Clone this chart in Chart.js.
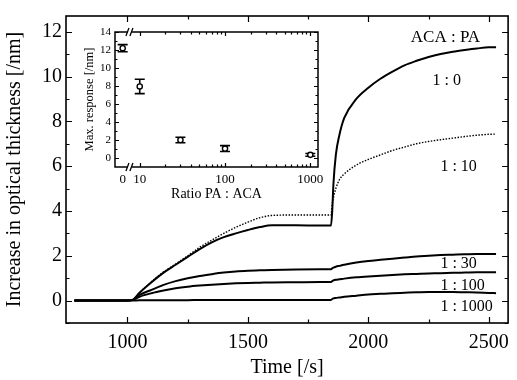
<!DOCTYPE html>
<html lang="en">
<head>
<meta charset="UTF-8">
<title>Optical thickness response</title>
<script src="https://cdn.jsdelivr.net/npm/chart.js@4.4.1/dist/chart.umd.min.js"></script>
<style>
  body { margin: 0; background: #fff; }
  #wrap { position: relative; width: 517px; height: 380px; }
  #main { position: absolute; left: 0; top: 0; }
  #inset { position: absolute; left: 80px; top: 20px; }
</style>
</head>
<body>
<div id="wrap">
  <canvas id="main" width="517" height="380"></canvas>
  <canvas id="inset" width="250" height="185"></canvas>
</div>
<script>
// main chart: time traces for each ACA : PA ratio
const time = [780, 1000, 1020, 1050, 1100, 1150, 1200, 1250, 1300, 1350, 1400, 1450, 1500, 1550, 1600, 1700, 1800, 1845,
              1850, 1855, 1865, 1880, 1900, 1950, 2000, 2050, 2100, 2150, 2200, 2250, 2300, 2350, 2400, 2450, 2500, 2530];
const r1_0 = [0, 0, 0.02, 0.35, 0.82, 1.25, 1.6, 1.95, 2.3, 2.6, 2.83, 3.0, 3.15, 3.28, 3.36, 3.36, 3.35, 3.35,
              4.0, 5.2, 6.5, 7.4, 8.15, 9.0, 9.5, 9.9, 10.22, 10.5, 10.7, 10.87, 11.0, 11.1, 11.18, 11.25, 11.3, 11.3];
const r1_10 = [0, 0, 0.02, 0.35, 0.85, 1.28, 1.63, 2.0, 2.38, 2.7, 3.0, 3.27, 3.5, 3.7, 3.8, 3.82, 3.82, 3.82,
               4.3, 4.6, 5.0, 5.4, 5.65, 6.05, 6.3, 6.5, 6.7, 6.85, 7.0, 7.1, 7.18, 7.25, 7.32, 7.38, 7.42, 7.43];
const r1_30 = [0, 0, 0.02, 0.25, 0.48, 0.7, 0.87, 1.0, 1.1, 1.18, 1.25, 1.3, 1.33, 1.35, 1.37, 1.39, 1.4, 1.4,
               1.44, 1.47, 1.51, 1.55, 1.6, 1.7, 1.77, 1.82, 1.87, 1.92, 1.97, 2.0, 2.03, 2.05, 2.07, 2.08, 2.08, 2.08];
const r1_100 = [0, 0, 0.02, 0.17, 0.33, 0.45, 0.55, 0.62, 0.67, 0.71, 0.74, 0.77, 0.79, 0.8, 0.81, 0.82, 0.83, 0.83,
                0.87, 0.9, 0.93, 0.95, 0.98, 1.04, 1.08, 1.11, 1.14, 1.17, 1.19, 1.21, 1.22, 1.24, 1.25, 1.26, 1.26, 1.26];
const r1_1000 = [0, 0, 0, 0.01, 0.01, 0.02, 0.02, 0.02, 0.03, 0.03, 0.03, 0.03, 0.03, 0.03, 0.03, 0.03, 0.03, 0.03,
                 0.07, 0.1, 0.12, 0.14, 0.17, 0.22, 0.27, 0.3, 0.33, 0.35, 0.37, 0.38, 0.38, 0.38, 0.37, 0.36, 0.34, 0.33];
const timeTicks = [1000, 1500, 2000, 2500];
const timeMinor = [1250, 1750, 2250];
const thickTicks = [0, 2, 4, 6, 8, 10, 12];
const thickMinor = [-1, 1, 3, 5, 7, 9, 11];
const ratioNames = ['ACA : PA', '1 : 0', '1 : 10', '1 : 30', '1 : 100', '1 : 1000'];

// inset: maximum response vs ratio PA : ACA
const ratios = [0, 10, 30, 100, 1000];
const maxResp = [12.2, 7.95, 2.0, 1.05, 0.35];
const maxErr = [0.4, 0.8, 0.3, 0.33, 0.15];
const ratioTicks = [0, 10, 100, 1000];
const ratioTickLabels = ['0', '10', '100', '1000'];
const respTicks = [0, 2, 4, 6, 8, 10, 12, 14];

const SERIF = '"Liberation Serif", "Times New Roman", serif';
const ZERO_POS = 0.8;   // where the 0 ratio sits left of the axis break
const ratioPos = r => r === 0 ? ZERO_POS : Math.log10(r);

function pts(xs, ys) { return xs.map((x, i) => ({ x: x, y: ys[i] })); }

function drawFrame(chart, o) {
  const { ctx, chartArea: a } = chart;
  const x = chart.scales.x, y = chart.scales.y;
  ctx.save();
  ctx.strokeStyle = '#000';
  ctx.lineWidth = o.frame;
  ctx.strokeRect(a.left, a.top, a.right - a.left, a.bottom - a.top);
  ctx.lineWidth = 1.2;
  ctx.beginPath();
  const xt = (vals, len) => vals.forEach(v => {
    const p = Math.round(x.getPixelForValue(v)) + 0.5;
    ctx.moveTo(p, a.bottom); ctx.lineTo(p, a.bottom - len);
    ctx.moveTo(p, a.top); ctx.lineTo(p, a.top + len);
  });
  const yt = (vals, len) => vals.forEach(v => {
    const p = Math.round(y.getPixelForValue(v)) + 0.5;
    ctx.moveTo(a.left, p); ctx.lineTo(a.left + len, p);
    ctx.moveTo(a.right, p); ctx.lineTo(a.right - len, p);
  });
  xt(o.xMajor, o.major); xt(o.xMinor, o.minor);
  yt(o.yMajor, o.major); yt(o.yMinor, o.minor);
  ctx.stroke();
  if (o.breakAt !== undefined) {
    const p = x.getPixelForValue(o.breakAt);
    [a.top, a.bottom].forEach(yy => {
      ctx.fillStyle = '#fff';
      ctx.fillRect(p - 2, yy - 2, 4, 4);
      ctx.beginPath();
      ctx.lineWidth = 1.3;
      ctx.moveTo(p - 4, yy + 4); ctx.lineTo(p - 1, yy - 4);
      ctx.moveTo(p, yy + 4); ctx.lineTo(p + 3, yy - 4);
      ctx.stroke();
    });
  }
  ctx.restore();
}

const mainFrame = {
  id: 'mainFrame',
  afterDraw(chart) {
    drawFrame(chart, { frame: 1.6, major: 6, minor: 3.5,
      xMajor: timeTicks, xMinor: timeMinor, yMajor: thickTicks, yMinor: thickMinor });
    const { ctx } = chart;
    const x = chart.scales.x, y = chart.scales.y;
    // ratio labels next to the traces
    const spots = [[2176, 11.75, 17], [2266, 9.8, 16], [2299, 5.95, 16], [2299, 1.62, 16], [2299, 0.66, 16], [2299, -0.27, 16]];
    ctx.save();
    ctx.fillStyle = '#000';
    ctx.textAlign = 'left';
    ctx.textBaseline = 'middle';
    ratioNames.forEach((t, i) => {
      ctx.font = spots[i][2] + 'px ' + SERIF;
      ctx.fillText(t, x.getPixelForValue(spots[i][0]), y.getPixelForValue(spots[i][1]));
    });
    ctx.restore();
  }
};

const line = (data, width, dash) => ({
  data: data, borderColor: '#000', borderWidth: width, borderDash: dash || [],
  pointRadius: 0, fill: false, cubicInterpolationMode: 'monotone'
});

new Chart(document.getElementById('main').getContext('2d'), {
  type: 'line',
  data: {
    datasets: [
      line(pts(time, r1_0), 2),
      line(pts(time, r1_10), 1.4, [1.5, 1.5]),
      line(pts(time, r1_30), 2),
      line(pts(time, r1_100), 2),
      line(pts(time, r1_1000), 2)
    ]
  },
  options: {
    responsive: false,
    animation: false,
    layout: { padding: { top: 12, right: 4, left: 0, bottom: 0 } },
    plugins: { legend: { display: false }, tooltip: { enabled: false } },
    scales: {
      x: {
        type: 'linear', min: 745, max: 2580,
        grid: { display: false, drawTicks: false }, border: { display: false },
        afterBuildTicks: s => { s.ticks = timeTicks.map(v => ({ value: v })); },
        afterFit: s => { s.height = 57; },
        ticks: { color: '#000', font: { family: SERIF, size: 20 }, padding: 8, maxRotation: 0, autoSkip: false,
                 callback: v => String(v) },
        title: { display: true, text: 'Time [/s]', color: '#000', font: { family: SERIF, size: 20 }, padding: { top: 0, bottom: 0 } }
      },
      y: {
        type: 'linear', min: -1, max: 12.7,
        grid: { display: false, drawTicks: false }, border: { display: false },
        afterBuildTicks: s => { s.ticks = thickTicks.map(v => ({ value: v })); },
        afterFit: s => { s.width = 66; },
        ticks: { color: '#000', font: { family: SERIF, size: 20 }, padding: 4 },
        title: { display: true, text: 'Increase in optical thickness [/nm]', color: '#000', font: { family: SERIF, size: 20 }, padding: { top: 3, bottom: 0 } }
      }
    }
  },
  plugins: [mainFrame]
});

// inset chart
const insetMinor = [];
[10, 100].forEach(d => { for (let k = 2; k <= 9; k++) insetMinor.push(Math.log10(k * d)); });

const insetFrame = {
  id: 'insetFrame',
  beforeDatasetsDraw(chart) {
    const { ctx } = chart;
    const x = chart.scales.x, y = chart.scales.y;
    ctx.save();
    ctx.strokeStyle = '#000';
    ctx.lineWidth = 1.6;
    ctx.beginPath();
    ratios.forEach((r, i) => {
      const px = x.getPixelForValue(ratioPos(r));
      const hi = y.getPixelForValue(maxResp[i] + maxErr[i]);
      const lo = y.getPixelForValue(maxResp[i] - maxErr[i]);
      ctx.moveTo(px, hi); ctx.lineTo(px, lo);
      ctx.moveTo(px - 5, hi); ctx.lineTo(px + 5, hi);
      ctx.moveTo(px - 5, lo); ctx.lineTo(px + 5, lo);
    });
    ctx.stroke();
    ctx.restore();
  },
  afterDraw(chart) {
    drawFrame(chart, { frame: 1.5, major: 4, minor: 2.5,
      xMajor: [1, 2, 3], xMinor: insetMinor,
      yMajor: respTicks, yMinor: [1, 3, 5, 7, 9, 11, 13],
      breakAt: 0.885 });
  }
};

new Chart(document.getElementById('inset').getContext('2d'), {
  type: 'scatter',
  data: {
    datasets: [{
      data: pts(ratios.map(ratioPos), maxResp),
      pointRadius: 2.6, pointBackgroundColor: '#fff', pointBorderColor: '#000', pointBorderWidth: 1.4
    }]
  },
  options: {
    responsive: false,
    animation: false,
    layout: { padding: { top: 12, right: 12, left: 0, bottom: 0 } },
    plugins: { legend: { display: false }, tooltip: { enabled: false } },
    scales: {
      x: {
        type: 'linear', min: 0.71, max: 3.09,
        grid: { display: false, drawTicks: false }, border: { display: false },
        afterBuildTicks: s => { s.ticks = ratioTicks.map(r => ({ value: ratioPos(r) })); },
        afterFit: s => { s.height = 38; },
        ticks: { color: '#000', font: { family: SERIF, size: 13 }, padding: 5, maxRotation: 0, autoSkip: false,
                 callback: (v, i) => ratioTickLabels[i] },
        title: { display: true, text: 'Ratio PA : ACA', color: '#000', font: { family: SERIF, size: 14 }, padding: { top: 0, bottom: 2 } }
      },
      y: {
        type: 'linear', min: -1, max: 14,
        grid: { display: false, drawTicks: false }, border: { display: false },
        afterBuildTicks: s => { s.ticks = respTicks.map(v => ({ value: v })); },
        afterFit: s => { s.width = 35; },
        ticks: { color: '#000', font: { family: SERIF, size: 11 }, padding: 4 },
        title: { display: true, text: 'Max. response [/nm]', color: '#000', font: { family: SERIF, size: 12.5 }, padding: { top: 2, bottom: 0 } }
      }
    }
  },
  plugins: [insetFrame]
});
</script>
</body>
</html>
